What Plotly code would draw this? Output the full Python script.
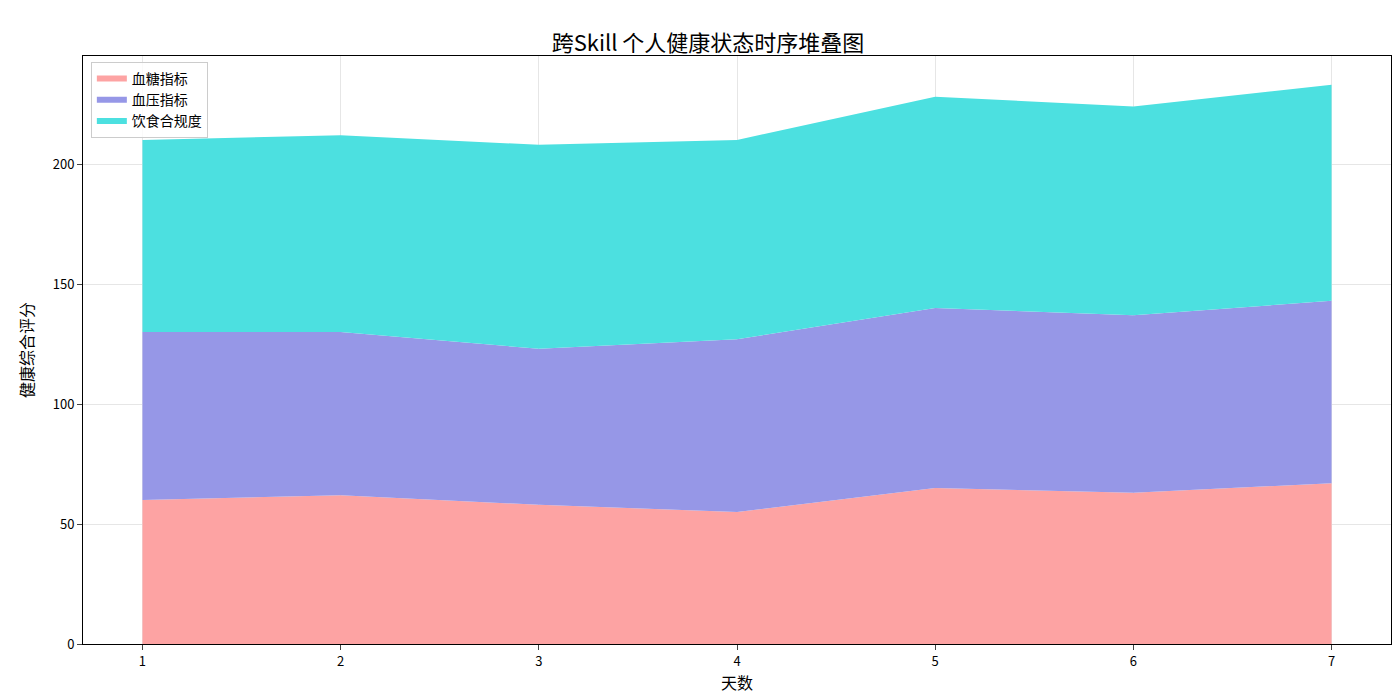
import plotly.graph_objects as go

days = [1, 2, 3, 4, 5, 6, 7]
blood_sugar = [60, 62, 58, 55, 65, 63, 67]
blood_pressure = [70, 68, 65, 72, 75, 74, 76]
diet = [80, 82, 85, 83, 88, 87, 90]
names = ["血糖指标", "血压指标", "饮食合规度"]
colors = ["#FDA3A3", "#9697E7", "#4CE0E0"]

fig = go.Figure()
for name, vals, c in zip(names, [blood_sugar, blood_pressure, diet], colors):
    fig.add_trace(go.Scatter(x=days, y=vals, name=name, stackgroup="one",
                             mode="none", fillcolor=c))

font = "Noto Sans CJK SC, sans-serif"
fig.update_layout(
    width=1400, height=700, plot_bgcolor="white", paper_bgcolor="white",
    font=dict(family=font, size=13, color="black"),
    margin=dict(l=75, r=17, t=48, b=64, autoexpand=False),
    title=dict(text="跨Skill 个人健康状态时序堆叠图", x=0.5, y=0.96, xanchor="center",
               font=dict(size=22)),
    legend=dict(x=0.006, y=0.99, xanchor="left", yanchor="top", traceorder="normal",
                bordercolor="#cccccc", borderwidth=1, bgcolor="rgba(255,255,255,0.8)",
                font=dict(size=14)),
    xaxis=dict(range=[0.70, 7.30], tickvals=days, title=dict(text="天数", standoff=6),
               showgrid=True, gridcolor="#e6e6e6", showline=True, linecolor="black",
               mirror=True, ticks="outside", zeroline=False, automargin=False),
    yaxis=dict(range=[0, 245], tickvals=[0, 50, 100, 150, 200], title=dict(text="健康综合评分"),
               showgrid=True, gridcolor="#e6e6e6", showline=True, linecolor="black",
               mirror=True, ticks="outside", zeroline=False, automargin=False),
)
fig.write_html("out.html")
